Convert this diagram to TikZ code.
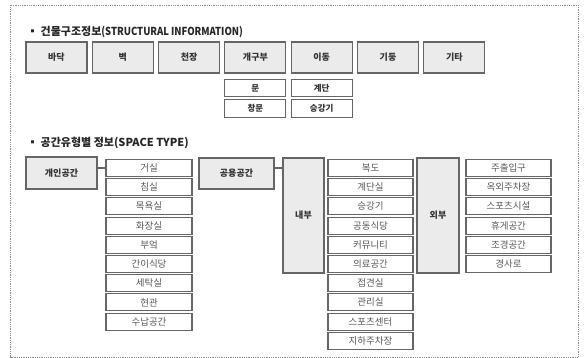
\documentclass[tikz,border=0pt]{standalone}
\usepackage{fontspec}
\setmainfont{Noto Sans CJK KR}
\begin{document}
\begin{tikzpicture}[x=1pt,y=-1pt,
  hdr/.style={draw=black!60,line width=1.1pt,fill=black!8,font=\bfseries\fontsize{9}{9}\selectfont,text=black!80,inner sep=0pt},
  item/.style={draw=black!60,line width=1.1pt,fill=white,font=\fontsize{9.5}{9.5}\selectfont,text=black!65,inner sep=0pt,minimum width=85pt,minimum height=17pt},
  top/.style={hdr,minimum width=61pt,minimum height=31pt},
  sub/.style={draw=black!60,line width=1.1pt,fill=white,font=\bfseries\fontsize{8.5}{8.5}\selectfont,text=black!80,inner sep=0pt,minimum width=61pt,minimum height=17.5pt},
  ttl/.style={anchor=west,font=\bfseries\fontsize{11}{11}\selectfont,text=black!85,inner sep=0pt},
  conn/.style={draw=black!60,line width=1.1pt}]
\useasboundingbox (0,0) rectangle (584,358);
\draw[black!45,densely dotted,line width=0.8pt] (10.5,5.5) rectangle (578.5,357);
% section 1
\node[ttl] (t1) at (27,32) {▪ 건물구조정보{\addfontfeature{FakeStretch=0.86}(STRUCTURAL INFORMATION)}};
\node[top] (b1) at (56.5,57.5) {바닥};
\node[top] (b2) at (122.8,57.5) {벽};
\node[top] (b3) at (189.1,57.5) {천장};
\node[top] (b4) at (255.4,57.5) {개구부};
\node[top] (b5) at (321.7,57.5) {이동};
\node[top] (b6) at (388,57.5) {기둥};
\node[top] (b7) at (454.3,57.5) {기타};
\node[sub] (s1) at (255.4,88) {문};
\node[sub] (s2) at (255.4,108.5) {창문};
\node[sub] (s3) at (321.7,88) {계단};
\node[sub] (s4) at (321.7,108.5) {승강기};
% section 2
\node[ttl] (t2) at (27,143) {▪ 공간유형별 정보(SPACE TYPE)};
\node[hdr,minimum width=71pt,minimum height=32pt] (g) at (61.5,173) {개인공간};
\foreach \t [count=\i from 0] in {거실,침실,목욕실,화장실,부엌,간이식당,세탁실,현관,수납공간}
  \node[item,minimum width=86pt] (a\i) at (149,168+19.2*\i) {\t};
\node[hdr,minimum width=75pt,minimum height=31pt] (k) at (236.5,173.5) {공용공간};
\node[hdr,minimum width=41pt,minimum height=115pt] (n) at (303.5,215.5) {내부};
\foreach \t [count=\i from 0] in {복도,계단실,승강기,공동식당,커뮤니티,의료공간,접견실,관리실,스포츠센터,지하주차장}
  \node[item] (c\i) at (370.5,168+19.2*\i) {\t};
\node[hdr,minimum width=42pt,minimum height=115pt] (o) at (438,215.5) {외부};
\foreach \t [count=\i from 0] in {주출입구,옥외주차장,스포츠시설,휴게공간,조경공간,경사로}
  \node[item] (d\i) at (508.5,168+19.2*\i) {\t};
\draw[conn] (a0.west -| g.east) -- (a0.west);
\draw[conn] (c0.west -| k.east) -- (c0.west -| n.west);
\end{tikzpicture}
\end{document}
